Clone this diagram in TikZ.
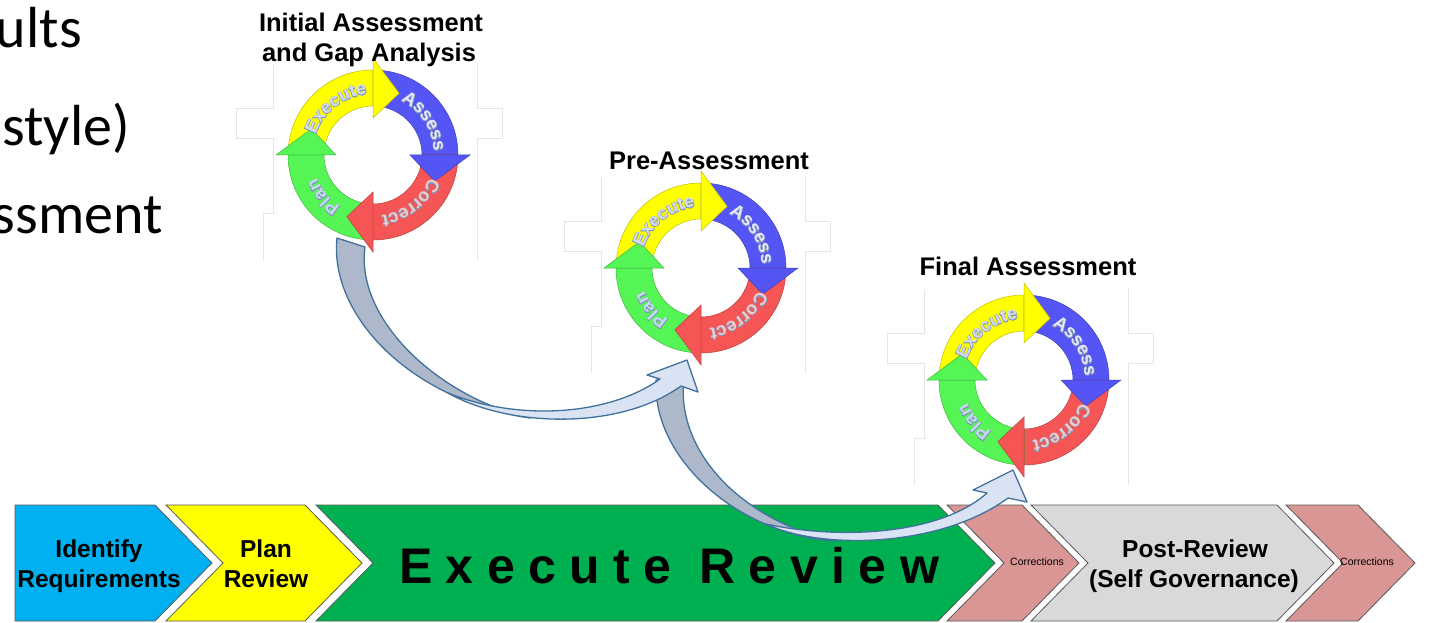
\documentclass[tikz,border=0pt]{standalone}
\usepackage{fontspec}
\setmainfont{Liberation Sans}
\newfontfamily\calibfont{Carlito}
\newfontfamily\spacedfont[LetterSpace=27]{Liberation Sans}
\newfontfamily\lbloutfam[FakeBold=6]{Liberation Sans}
\usetikzlibrary{calc,decorations.text}
\definecolor{cBlue}{HTML}{00B0F0}
\definecolor{cYel}{HTML}{FFFF00}
\definecolor{cGreen}{HTML}{00B050}
\definecolor{cRed}{HTML}{D99694}
\definecolor{cGray}{HTML}{D9D9D9}
\definecolor{rY}{HTML}{FFFF00}
\definecolor{rB}{HTML}{5555F5}
\definecolor{rR}{HTML}{F55555}
\definecolor{rG}{HTML}{55F555}
\definecolor{tE}{HTML}{D5DCF0}
\definecolor{tA}{HTML}{E6E6FA}
\definecolor{tC}{HTML}{F2C9C9}
\definecolor{tP}{HTML}{C6D9F1}
\definecolor{tO}{HTML}{7F96B8}
\definecolor{arD}{HTML}{ADB9CA}
\definecolor{arL}{HTML}{DAE3F3}
\definecolor{arO}{HTML}{41719C}
\newcommand{\lblfont}{\bfseries\fontsize{18}{18}\selectfont}
\newcommand{\lbloutfont}{\lbloutfam\bfseries\fontsize{18}{18}\selectfont}
\tikzset{
  chev/.style={draw=black!65, line width=0.8pt, line join=miter},
  ctext/.style={font=\bfseries\fontsize{24.5}{30}\selectfont, inner sep=0pt},
  ttl/.style={font=\bfseries\fontsize{25.5}{30}\selectfont, inner sep=0pt},
  cortext/.style={font=\fontsize{10.5}{12}\selectfont, inner sep=0pt},
  slidetext/.style={font=\calibfont\fontsize{58}{60}\selectfont, inner sep=0pt},
  ardark/.style={fill=arD, draw=arO, line width=1.3pt, line join=round},
  arlight/.style={fill=arL, draw=arO, line width=1.3pt, line join=round},
  ringseg/.style={line width=0.5pt},
  imgframe/.style={draw=black!10, line width=0.8pt},
  lbl/.style={decorate, decoration={text along path, text align=center, text={#1}}}
}
\newcommand{\cycleframe}[1]{%
  \draw[imgframe] ($(#1)+(-100,90)$) -- ($(#1)+(-100,47)$) -- ($(#1)+(-137,47)$) -- ($(#1)+(-137,17)$) -- ($(#1)+(-100,17)$) -- ($(#1)+(-100,-58)$) -- ($(#1)+(-110,-58)$) -- ($(#1)+(-110,-105)$);
  \draw[imgframe] ($(#1)+(104,92)$) -- ($(#1)+(104,47)$) -- ($(#1)+(129,47)$) -- ($(#1)+(129,17)$) -- ($(#1)+(104,17)$) -- ($(#1)+(104,-105)$);
}
\newcommand{\ringbody}[4]{% center, color, start, end
  \filldraw[ringseg, fill=#2, draw=#2!75!black] ($(#1)+(#3:85)$) arc[start angle=#3, end angle=#4, radius=85] -- ($(#1)+(#4:49)$) arc[start angle=#4, end angle=#3, radius=49] -- cycle;
}
\newcommand{\ringhead}[3]{% center, color, base angle
  \filldraw[ringseg, fill=#2, draw=#2!75!black] ($(#1)+(#3:37)$) -- ($(#1)+(#3:97)$) -- ($(#1)+(#3-23:67)$) -- cycle;
}
\newcommand{\ringlabel}[5]{% center, colour, text, start, end
  \path[lbl={|\lbloutfont\color{tO}|#3}] ($(#1)+(#4:61)$) arc[start angle=#4, end angle=#5, radius=61];
  \path[lbl={|\lblfont\color{#2}|#3}] ($(#1)+(#4:61)$) arc[start angle=#4, end angle=#5, radius=61];
}
\newcommand{\drawcycle}[1]{%
  \ringbody{#1}{rY}{180}{90}
  \ringbody{#1}{rB}{90}{0}
  \ringbody{#1}{rR}{0}{-90}
  \ringbody{#1}{rG}{270}{180}
  \ringhead{#1}{rY}{90}
  \ringhead{#1}{rB}{0}
  \ringhead{#1}{rR}{-90}
  \ringhead{#1}{rG}{180}
  \ringlabel{#1}{tE}{Execute}{178}{78}
  \ringlabel{#1}{tA}{Assess}{83}{-17}
  \ringlabel{#1}{tC}{Correct}{-2}{-102}
  \ringlabel{#1}{tP}{Plan}{-90}{-190}
}
\begin{document}
\begin{tikzpicture}[x=1pt, y=1pt]
\useasboundingbox (0,0) rectangle (1430,-623);
\clip (0,0) rectangle (1430,-623);
\fill[white] (0,0) rectangle (1430,-623);

% cut-off slide text
\node[slidetext, anchor=base east] (s1) at (82,-48) {ults};
\node[slidetext, anchor=base east] (s2) at (130,-146) {style)};
\node[slidetext, anchor=base east] (s3) at (163,-233) {ssment};

% cycle centres
\coordinate (c1) at (373,-155);
\coordinate (c2) at (701,-268);
\coordinate (c3) at (1024,-380);
\cycleframe{c1}
\cycleframe{c2}
\cycleframe{c3}

% chevrons
\draw[chev, fill=cBlue] (15,-505) -- (155,-505) -- (212,-563) -- (155,-621) -- (15,-621) -- cycle;
\draw[chev, fill=cYel] (166,-505) -- (305,-505) -- (362,-563) -- (305,-621) -- (166,-621) -- (223,-563) -- cycle;
\draw[chev, fill=cGreen] (316,-505) -- (938,-505) -- (995,-563) -- (938,-621) -- (316,-621) -- (373,-563) -- cycle;
\draw[chev, fill=cRed] (947,-505) -- (1022,-505) -- (1079,-563) -- (1022,-621) -- (947,-621) -- (1004,-563) -- cycle;
\draw[chev, fill=cGray] (1031,-505) -- (1277,-505) -- (1334,-563) -- (1277,-621) -- (1031,-621) -- (1088,-563) -- cycle;
\draw[chev, fill=cRed] (1286,-505) -- (1358,-505) -- (1415,-563) -- (1358,-621) -- (1286,-621) -- (1343,-563) -- cycle;

\node[ctext, anchor=base] (idA) at (99,-557) {Identify};
\node[ctext, anchor=base] (idB) at (99,-587) {Requirements};
\node[ctext, anchor=base] (plA) at (266,-557) {Plan};
\node[ctext, anchor=base] (plB) at (266,-587) {Review};
\node[inner sep=0pt, anchor=base, font=\spacedfont\bfseries\fontsize{50}{52}\selectfont] (exr) at (669,-583) {Execute Review};
\node[cortext] (cor1) at (1037,-562) {Corrections};
\node[ctext, anchor=base] (prA) at (1195,-557) {Post-Review};
\node[ctext, anchor=base] (prB) at (1194,-587) {(Self Governance)};
\node[cortext] (cor2) at (1367,-562) {Corrections};

% curved arrow 2 (pre-assessment to final)
\draw[ardark] (656,-380) .. controls (652,-460) and (740,-535) .. (835,-541) .. controls (740,-520) and (675,-450) .. (684,-378) -- cycle;
\draw[arlight] (766,-524) .. controls (820,-550) and (940,-548) .. (1008,-498) -- (1027,-502) -- (1013,-470) -- (973,-490) -- (987,-493) .. controls (940,-535) and (840,-540) .. (766,-524) -- cycle;

% curved arrow 1 (initial to pre-assessment)
\draw[ardark] (337,-238) .. controls (329,-315) and (410,-400) .. (530,-418) .. controls (440,-398) and (355,-320) .. (365,-247) -- cycle;
\draw[arlight] (448,-393) .. controls (510,-428) and (620,-430) .. (681,-386) -- (698,-392) -- (687,-360) -- (647,-375) -- (660,-379) .. controls (610,-415) and (520,-422) .. (448,-393) -- cycle;

% cycles
\drawcycle{c1}
\drawcycle{c2}
\drawcycle{c3}

% titles
\node[ttl, anchor=base] (t1a) at (371,-32) {Initial Assessment};
\node[ttl, anchor=base] (t1b) at (369,-62) {and Gap Analysis};
\node[ttl, anchor=base] (t2) at (709,-170) {Pre-Assessment};
\node[ttl, anchor=base] (t3) at (1028,-275) {Final Assessment};
\end{tikzpicture}
\end{document}
